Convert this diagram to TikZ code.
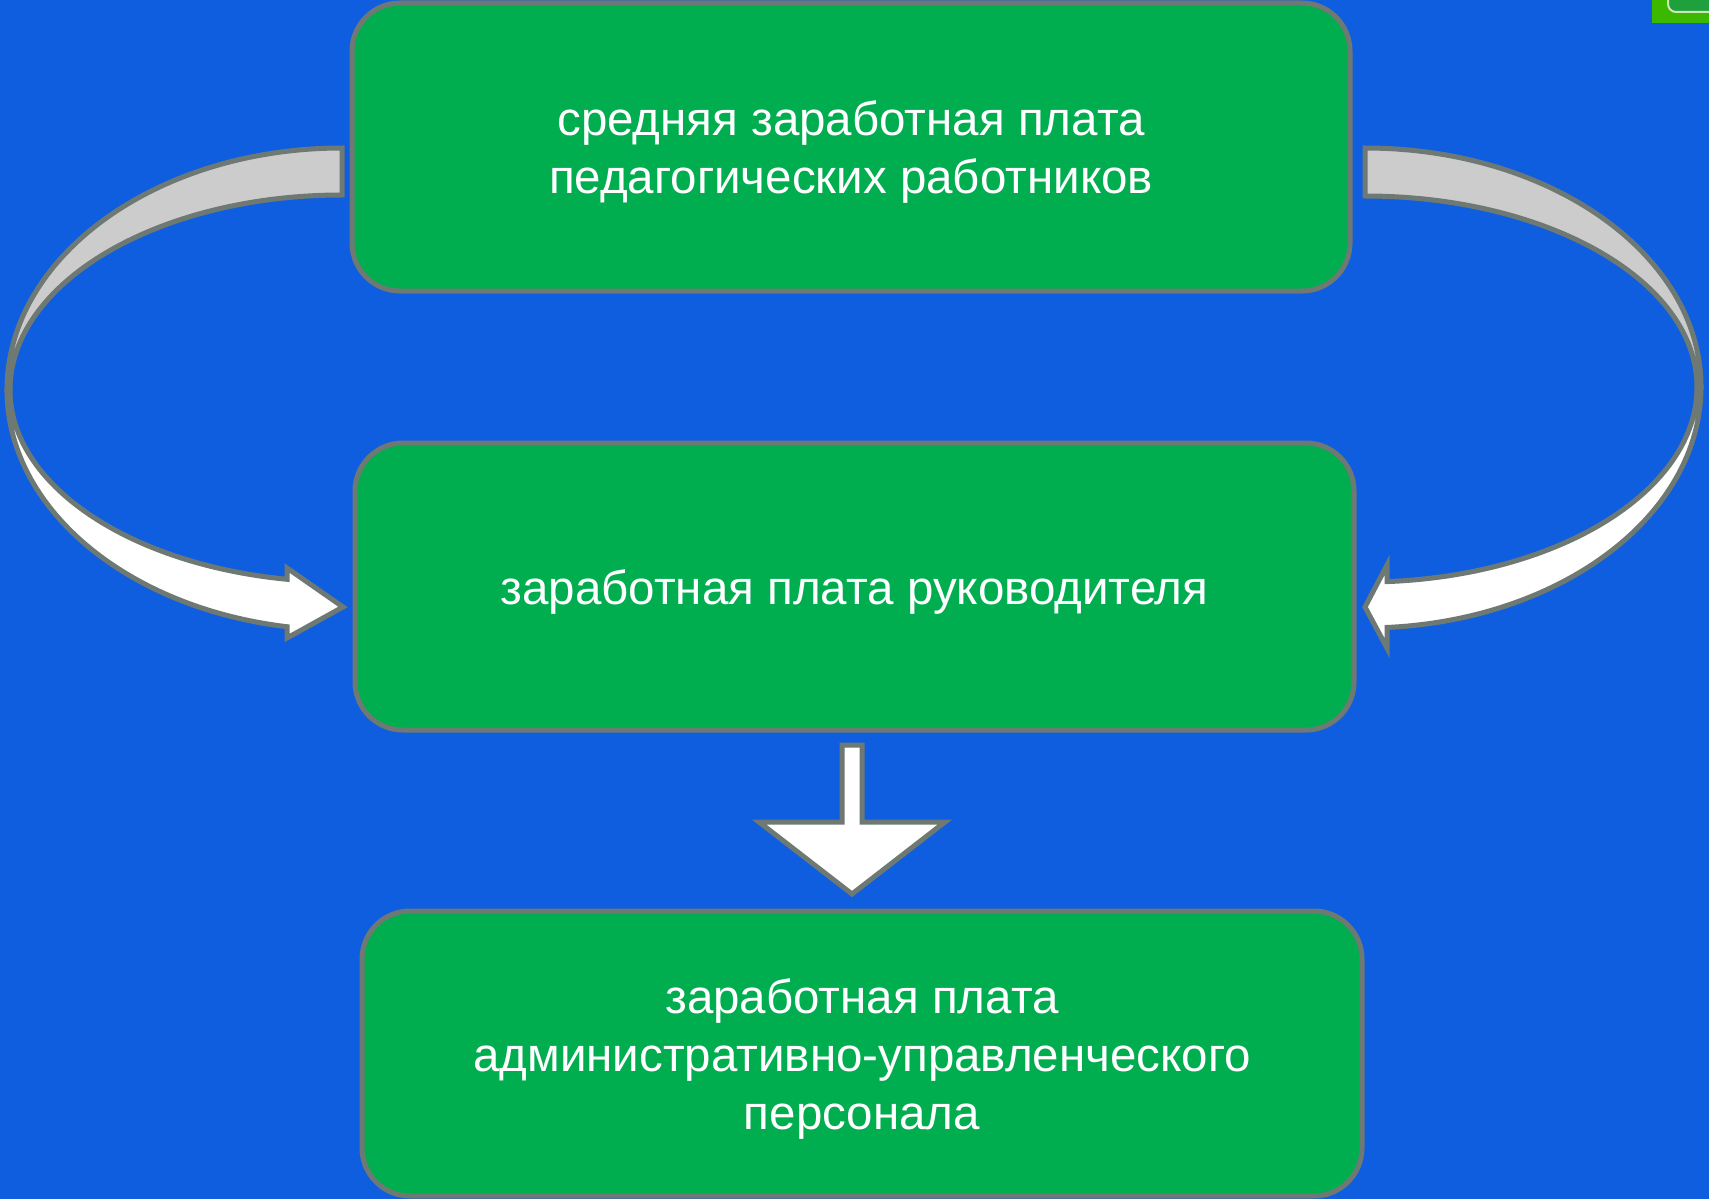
\documentclass[tikz,border=0pt]{standalone}
\usepackage{fontspec}
\setmainfont{Liberation Sans}
\definecolor{bgblue}{RGB}{15,94,224}
\definecolor{boxgreen}{RGB}{0,174,80}
\definecolor{edgegray}{RGB}{110,121,115}
\definecolor{bandgray}{RGB}{204,204,204}
\definecolor{limegreen}{RGB}{60,184,0}
\definecolor{btngreen}{RGB}{30,160,60}
\definecolor{btnedge}{RGB}{200,232,180}
\begin{document}
\begin{tikzpicture}[x=1pt,y=-1pt,
  box/.style={draw=edgegray, line width=5pt, fill=boxgreen, rounded corners=48pt, inner sep=0pt},
  boxtext/.style={text=white, align=center, font=\fontsize{47.5}{58}\selectfont, inner sep=0pt},
  band/.style={draw=edgegray, line width=5pt, line join=miter, fill=bandgray},
  blockarrow/.style={draw=edgegray, line width=5pt, line join=miter, fill=white}]
\fill[bgblue] (0,0) rectangle (1709,1199);
\useasboundingbox (0,0) rectangle (1709,1199);

% corner decoration
\begin{scope}
\clip (0,0) rectangle (1709,1199);
\fill[limegreen] (1652,0) rectangle (1709,23);
\draw[draw=btnedge, line width=2pt, fill=btngreen, rounded corners=8pt] (1668,-20) rectangle (1740,12);
\end{scope}

% boxes
\node[box, minimum width=998pt, minimum height=288pt] (top) at (851,147) {};
\node[box, minimum width=999pt, minimum height=287pt] (mid) at (854.5,586.5) {};
\node[box, minimum width=1000pt, minimum height=285pt] (bot) at (862,1053.5) {};

\node[boxtext] (toptext) at ([yshift=-5.5pt]top.center)
  {средняя заработная плата\\педагогических работников};
\node[boxtext] (midtext) at ([yshift=-5.5pt]mid.center)
  {заработная плата руководителя};
\node[boxtext] (bottext) at ([yshift=-5.5pt]bot.center)
  {заработная плата\\административно-управленческого\\персонала};

% left curved arrow
\draw[band] (342,148) arc[start angle=270,end angle=180,x radius=335,y radius=242]
  -- (10,390) arc[start angle=180,end angle=270,x radius=332,y radius=195] -- cycle;
\draw[blockarrow] (7,390) arc[start angle=180,end angle=99.45,x radius=335,y radius=240]
  -- (287,638) -- (343,607) -- (287,568) -- (287,579.3)
  arc[start angle=99.54,end angle=180,x radius=332,y radius=192] -- cycle;

% right curved arrow
\draw[band] (1365,148) arc[start angle=270,end angle=360,x radius=336,y radius=239]
  -- (1697,387) arc[start angle=0,end angle=-90,x radius=332,y radius=191] -- cycle;
\draw[blockarrow] (1701,387) arc[start angle=0,end angle=86.246,x radius=336,y radius=241]
  -- (1387,648) -- (1365,607) -- (1387,565) -- (1387,581.6)
  arc[start angle=86.20,end angle=0,x radius=332,y radius=195] -- cycle;

% down arrow
\draw[blockarrow] (842,745) -- (862,745) -- (862,822) -- (945,822) -- (852,894)
  -- (759,822) -- (842,822) -- cycle;
\end{tikzpicture}
\end{document}
